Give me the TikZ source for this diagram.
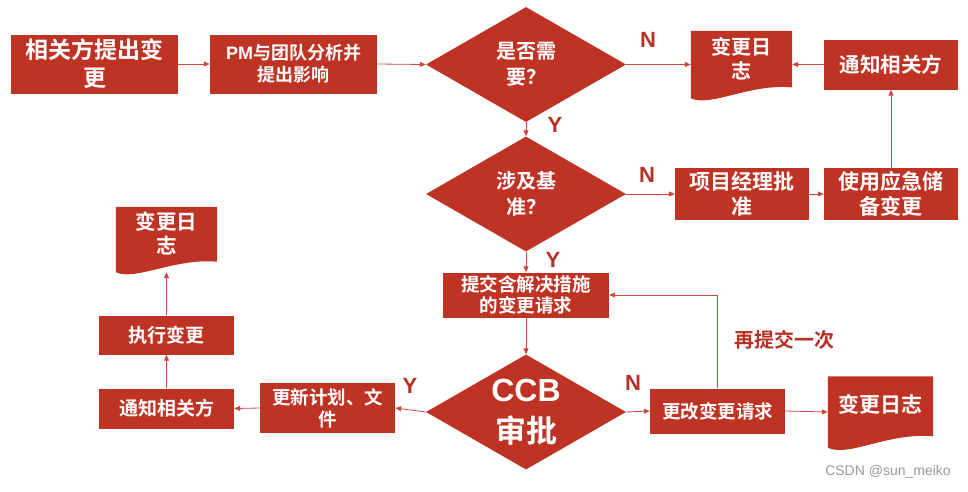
\documentclass[tikz,border=0pt]{standalone}
\usepackage{fontspec}
\setmainfont{Noto Sans CJK SC}[BoldFont={Noto Sans CJK SC Bold}]
\newfontfamily\lat{Liberation Sans}
\usetikzlibrary{shapes.geometric,arrows.meta,backgrounds,calc}
\definecolor{boxred}{RGB}{190,51,35}
\definecolor{linered}{RGB}{204,72,60}
\definecolor{labred}{RGB}{184,48,36}
\newcommand\fs[2]{\fontsize{#1}{#2}\selectfont}
\newcommand\docbg[1]{%
  \fill[boxred] let \p1=(#1.north west), \p2=(#1.south east) in
    (\x1,\y1) -- (\x2,\y1) -- (\x2,{\y2+0.16*(\y1-\y2)})
    .. controls ({\x1+0.58*(\x2-\x1)},{\y2+0.22*(\y1-\y2)}) and ({\x1+0.19*(\x2-\x1)},{\y2-0.14*(\y1-\y2)}) ..
    (\x1,\y2) -- cycle;}
\tikzset{
  box/.style={fill=boxred, text=white, font=\bfseries, inner sep=0pt, align=center},
  docbox/.style={text=white, font=\bfseries, inner sep=0pt, align=center},
  dia/.style={diamond, fill=boxred, inner sep=0pt, minimum width=200pt, minimum height=115pt},
  dialab/.style={text=white, font=\bfseries, align=center, inner sep=0pt},
  conn/.style={draw=linered, line width=0.8pt, -{Triangle[length=6pt,width=5pt]}},
  yn/.style={text=labred, font=\lat\bfseries\fs{22}{22}},
}
\begin{document}
\begin{tikzpicture}[x=1pt,y=-1pt]
\useasboundingbox (0,0) rectangle (968,491);
% top row
\node[box, minimum width=167pt, minimum height=59pt, font=\bfseries\fs{23}{28}] (n1) at (94.5,64) {相关方提出变\\更};
\node[box, minimum width=167pt, minimum height=59pt, font=\bfseries\fs{18}{22}] (n2) at (293.5,64) {{\lat PM}与团队分析并\\提出影响};
\node[dia, label={[dialab, font=\bfseries\fs{20}{26}]center:是否需\\要？}] (d1) at (526,64.5) {};
\node[docbox, minimum width=101pt, minimum height=67pt, text depth=14pt, font=\bfseries\fs{20}{24}] (log1) at (741.5,64.5) {变更日\\志};
\node[box, minimum width=134pt, minimum height=50pt, font=\bfseries\fs{20.5}{24}] (n3) at (891,64.5) {通知相关方};
% second row
\node[dia, label={[dialab, font=\bfseries\fs{20}{26}]center:涉及基\\准？}] (d2) at (526,194) {};
\node[box, minimum width=134pt, minimum height=52pt, font=\bfseries\fs{21}{25}] (n4) at (742,194) {项目经理批\\准};
\node[box, minimum width=134pt, minimum height=52pt, font=\bfseries\fs{21}{25}] (n5) at (891,194) {使用应急储\\备变更};
% middle
\node[box, minimum width=166pt, minimum height=45pt, font=\bfseries\fs{18.5}{21}] (n6) at (526,295) {提交含解决措施\\的变更请求};
% bottom row
\node[dia, label={[dialab, font=\bfseries\fs{31}{41}]center:{\lat\bfseries\fs{32}{41}CCB}\\审批}] (d3) at (526,412) {};
\node[box, minimum width=135pt, minimum height=45pt, font=\bfseries\fs{18.5}{22}] (n7) at (717.5,411) {更改变更请求};
\node[docbox, minimum width=105pt, minimum height=71pt, text depth=17pt, font=\bfseries\fs{21}{24}] (log3) at (880.5,412) {变更日志};
\node[box, minimum width=135pt, minimum height=50pt, font=\bfseries\fs{18.5}{22}] (n8) at (327.5,408) {更新计划、文\\件};
\node[box, minimum width=135pt, minimum height=40pt, font=\bfseries\fs{19}{22}] (n9) at (166.5,408.5) {通知相关方};
\node[box, minimum width=135pt, minimum height=39pt, font=\bfseries\fs{19}{22}] (n10) at (166.5,335) {执行变更};
\node[docbox, minimum width=101pt, minimum height=65pt, text depth=14pt, font=\bfseries\fs{20.5}{24}] (log2) at (166.5,239.5) {变更日\\志};
% document backgrounds
\begin{scope}[on background layer]
\docbg{log1}
\docbg{log2}
\docbg{log3}
\end{scope}
% connectors
\draw[conn] (n1.east) -- (n2.west);
\draw[conn] (n2.east) -- (d1.west);
\draw[conn] (d1.east) -- (log1.west);
\draw[conn] (n3.west) -- (log1.east);
\draw[conn] (d1.south) -- (d2.north);
\draw[conn] (d2.east) -- (n4.west);
\draw[conn] (n4.east) -- (n5.west);
\draw[conn] (n5.north) -- (n3.south);
\draw[conn] (d2.south) -- (n6.north);
\draw[conn] (n6.south) -- (d3.north);
\draw[conn] (d3.east) -- (n7.west);
\draw[conn] (n7.east) -- (log3.west);
\draw[conn] (n7.north) |- (n6.east);
\draw[conn] (d3.west) -- (n8.east);
\draw[conn] (n8.west) -- (n9.east);
\draw[conn] (n9.north) -- (n10.south);
\draw[conn] (n10.north) -- (log2.south);
% labels
\node[yn] (lN1) at (648,40) {N};
\node[yn] (lY1) at (555,125) {Y};
\node[yn] (lN2) at (647,175) {N};
\node[yn] (lY2) at (553,260) {Y};
\node[yn] (lN3) at (633,383) {N};
\node[yn] (lY3) at (410,386) {Y};
\node[text=labred, font=\bfseries\fs{20}{24}] (resub) at (784,340) {再提交一次};
\node[text=black!40, font=\lat\fs{14}{16}] (wm) at (888,472) {CSDN @sun\_meiko};
\end{tikzpicture}
\end{document}
